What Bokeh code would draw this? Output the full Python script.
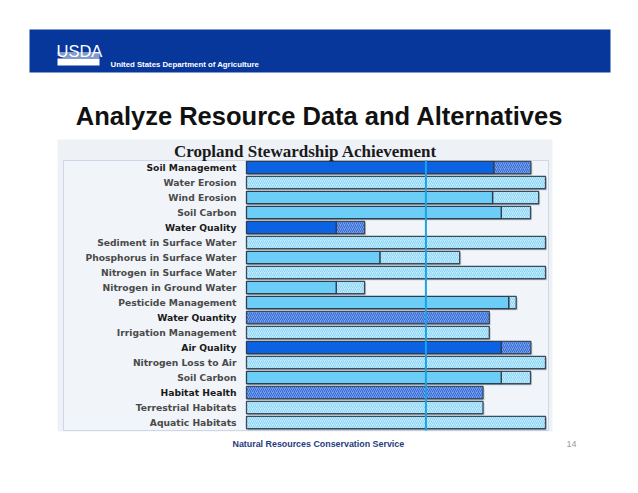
from bokeh.plotting import figure
from bokeh.models import Range1d, ColumnDataSource
from bokeh.core.properties import value
from bokeh.embed import file_html
from bokeh.resources import INLINE

# ---------------- data ----------------
labels = ["Soil Management", "Water Erosion", "Wind Erosion", "Soil Carbon",
          "Water Quality", "Sediment in Surface Water", "Phosphorus in Surface Water",
          "Nitrogen in Surface Water", "Nitrogen in Ground Water", "Pesticide Management",
          "Water Quantity", "Irrigation Management", "Air Quality", "Nitrogen Loss to Air",
          "Soil Carbon", "Habitat Health", "Terrestrial Habitats", "Aquatic Habitats"]
is_concern = [1, 0, 0, 0, 1, 0, 0, 0, 0, 0, 1, 0, 1, 0, 0, 1, 0, 0]
achieved = [82.7, 0, 82.3, 85.2, 30, 0, 44.6, 0, 30, 87.7, 0, 0, 85.2, 0, 85.2, 0, 0, 0]
total = [95.1, 100, 97.7, 95, 39.5, 100, 71.3, 100, 39.5, 90.2, 81.2, 81.2, 95.1, 100, 95, 79.1, 79.1, 100]
threshold = 60
chart_title = "Cropland Stewardship Achievement"
slide_title = "Analyze Resource Data and Alternatives"
footer_text = "Natural Resources Conservation Service"
page_number = "14"

# ---------------- geometry helpers (page pixel -> data) ----------------
SX = 2.99      # px per value unit
X0 = 246       # page px of value 0
ROW0 = 167     # page px of first row centre
PITCH = 15     # px per row


def X(px):
    return (px - X0) / SX


def Y(py):
    return (py - ROW0) / PITCH


p = figure(width=622, height=477,
           x_range=Range1d(X(0), X(622)), y_range=Range1d(Y(477), Y(0)),
           output_backend="svg", toolbar_location=None,
           x_axis_location=None, y_axis_location=None,
           min_border=0, min_border_left=0, min_border_right=0,
           min_border_top=0, min_border_bottom=0)
p.grid.visible = False
p.outline_line_color = None
p.background_fill_color = "white"
p.border_fill_color = "white"

# ---------------- banner ----------------
p.quad(left=[X(29)], right=[X(610)], top=[Y(29)], bottom=[Y(72)],
       fill_color="#08379b", line_color=None)
p.text(x=[X(56)], y=[Y(50)], text=["USDA"], text_color="white",
       text_font=value("Liberation Sans"), text_font_size="16.5px",
       text_baseline="alphabetic", text_align="left")
p.quad(left=[X(57)], right=[X(99)], top=[Y(58)], bottom=[Y(65)],
       fill_color="white", line_color=None)
p.segment(x0=[X(57), X(57), X(62)], y0=[Y(52.5), Y(54.5), Y(56.5)],
          x1=[X(99), X(99), X(99)], y1=[Y(52.5), Y(54.5), Y(56.5)],
          line_color="white", line_width=1)
p.text(x=[X(110)], y=[Y(63.5)], text=["United States Department of Agriculture"],
       text_color="white", text_font=value("Liberation Sans"), text_font_style="bold",
       text_font_size="7.8px", text_baseline="middle", text_align="left")

# ---------------- slide title ----------------
p.text(x=[X(319)], y=[Y(115)], text=[slide_title], text_color="#111111",
       text_font=value("Liberation Sans"), text_font_style="bold",
       text_font_size="25.5px", text_baseline="middle", text_align="center")

# ---------------- chart panel ----------------
p.quad(left=[X(57)], right=[X(552)], top=[Y(139)], bottom=[Y(431)],
       fill_color="#eef1f6", line_color=None)
p.quad(left=[X(63)], right=[X(548)], top=[Y(160)], bottom=[Y(430)],
       fill_color="#f1f4f8", line_color="#cdd7e6", line_width=1)
p.text(x=[X(305)], y=[Y(151)], text=[chart_title], text_color="#1a1a1a",
       text_font=value("Liberation Serif"), text_font_style="bold",
       text_font_size="17px", text_baseline="middle", text_align="center")

rows = list(range(len(labels)))
solid_color = ["#0b62e3" if c else "#6ccdf6" for c in is_concern]
hatch_fill = ["#74a2ec" if c else "#c6ebfb" for c in is_concern]
hatch_line = ["#3566d2" if c else "#86d4f5" for c in is_concern]
label_color = ["#1a1a1a" if c else "#4a4a4a" for c in is_concern]

src_solid = ColumnDataSource(dict(
    y=[r for r, a in zip(rows, achieved) if a > 0],
    left=[0 for a in achieved if a > 0],
    right=[a for a in achieved if a > 0],
    color=[c for c, a in zip(solid_color, achieved) if a > 0]))
src_hatch = ColumnDataSource(dict(
    y=rows, left=achieved, right=total, fill=hatch_fill, hline=hatch_line))
src_shadow = ColumnDataSource(dict(
    y=[r + 1.5 / PITCH for r in rows], left=[1.5 / SX] * len(rows),
    right=[t + 1.5 / SX for t in total]))

BH = 0.83
# soft shadow
p.hbar(y="y", left="left", right="right", height=BH, source=src_shadow,
       fill_color="#8a96a3", fill_alpha=0.45, line_color=None)
p.hbar(y="y", left="left", right="right", height=BH, source=src_hatch,
       fill_color="fill", hatch_pattern="/", hatch_color="hline",
       hatch_scale=4, hatch_weight=1, line_color="#3b4b5c", line_width=1.3)
p.hbar(y="y", left="left", right="right", height=BH, source=src_solid,
       fill_color="color", line_color="#2e3d4f", line_width=1.3)

# threshold line
p.segment(x0=[threshold], x1=[threshold], y0=[Y(160)], y1=[Y(430)],
          line_color="#1fa2e2", line_width=2)

# row labels
src_lab = ColumnDataSource(dict(x=[X(236)] * len(labels), y=rows, text=labels,
                                color=label_color))
p.text(x="x", y="y", text="text", source=src_lab, text_color="color",
       text_font=value("DejaVu Sans"), text_font_style="bold",
       text_font_size="9.2px", text_baseline="middle", text_align="right")

# ---------------- footer ----------------
p.text(x=[X(232)], y=[Y(443)], text=[footer_text], text_color="#1f3c80",
       text_font=value("Liberation Sans"), text_font_style="bold",
       text_font_size="8.9px", text_baseline="middle", text_align="left")
p.text(x=[X(576)], y=[Y(443)], text=[page_number], text_color="#9a9a9a",
       text_font=value("Liberation Sans"), text_font_size="9px",
       text_baseline="middle", text_align="right")

open("out.html", "w").write(file_html(p, INLINE))
